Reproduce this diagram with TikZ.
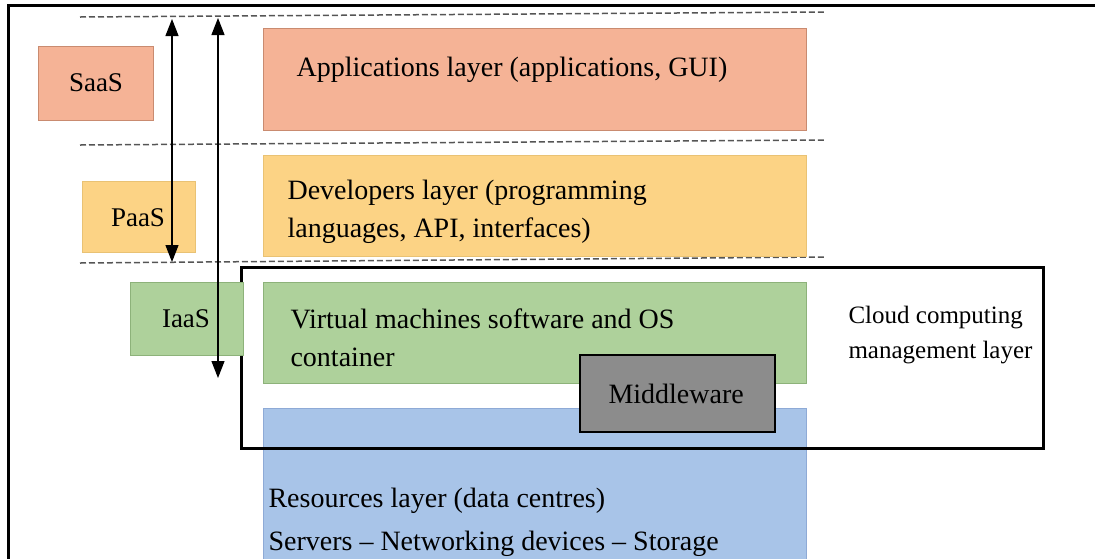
\documentclass[tikz,border=0pt]{standalone}
\usepackage{fontspec}
\newfontfamily\lib{Liberation Serif}[Ligatures=TeX]
\usetikzlibrary{arrows.meta}
\definecolor{saasfillc}{HTML}{F5B396}
\definecolor{saasedge}{HTML}{C98B70}
\definecolor{paasfillc}{HTML}{FCD385}
\definecolor{paasedge}{HTML}{E9C274}
\definecolor{iaasfillc}{HTML}{AED19B}
\definecolor{iaasedge}{HTML}{8DB27A}
\definecolor{resfillc}{HTML}{A8C4E8}
\definecolor{resedge}{HTML}{8EAAD6}
\definecolor{midfillc}{HTML}{8C8C8C}
\definecolor{sepcol}{HTML}{555555}
\begin{document}
\begin{tikzpicture}[x=1pt,y=-1pt,
  layerbox/.style={rectangle, anchor=north west, inner sep=0pt, outer sep=0pt, line width=0.8pt},
  saasfill/.style={draw=saasedge, fill=saasfillc},
  paasfill/.style={draw=paasedge, fill=paasfillc},
  iaasfill/.style={draw=iaasedge, fill=iaasfillc},
  resfill/.style={draw=resedge, fill=resfillc},
  midfill/.style={draw=black, line width=1.5pt, fill=midfillc},
  txt/.style={anchor=base west, font=\lib\fontsize{28}{34}\selectfont},
  lbl/.style={anchor=base, font=\lib\fontsize{27}{32}\selectfont},
  cloudtxt/.style={anchor=base west, font=\lib\fontsize{25}{30}\selectfont},
  sepline/.style={draw=sepcol, line width=1.5pt, dash pattern=on 6pt off 3pt},
  frameline/.style={line width=3pt, draw=black},
  spanarrow/.style={line width=1.2pt, {Triangle[width=13pt,length=17pt]}-{Triangle[width=13pt,length=17pt]}}
]
\useasboundingbox (0,0) rectangle (1095,558);

% outer frame (left and top)
\coordinate (fbl) at (8.5,560);
\coordinate (ftl) at (8.5,5);
\coordinate (ftr) at (1097,5);
\draw[frameline] (fbl) -- (ftl) -- (ftr);

% dashed separators
\coordinate (s1a) at (80,17);  \coordinate (s1b) at (825,12);
\coordinate (s2a) at (80,145); \coordinate (s2b) at (825,140);
\coordinate (s3a) at (80,263); \coordinate (s3b) at (825,257);
\draw[sepline] (s1a) -- (s1b);
\draw[sepline] (s2a) -- (s2b);
\draw[sepline] (s3a) -- (s3b);

% layer boxes
\node[layerbox, saasfill, minimum width=115pt, minimum height=74pt] (saas) at (38,46) {};
\node[layerbox, saasfill, minimum width=543pt, minimum height=102pt] (app) at (263,28) {};
\node[layerbox, paasfill, minimum width=113pt, minimum height=71pt] (paas) at (82,181) {};
\node[layerbox, paasfill, minimum width=543pt, minimum height=101pt] (dev) at (263,155) {};
\node[layerbox, iaasfill, minimum width=543pt, minimum height=101pt] (vm) at (263,282) {};
\node[layerbox, resfill, minimum width=543pt, minimum height=170pt] (res) at (263,408) {};

% cloud computing management layer frame
\node[layerbox, draw=black, line width=3pt, minimum width=802pt, minimum height=181pt] (cloud) at (241,267) {};

\node[layerbox, iaasfill, minimum width=113pt, minimum height=73pt] (iaas) at (130,282) {};
\node[layerbox, midfill, minimum width=195pt, minimum height=77pt] (mid) at (580,355) {};

% texts
\node[lbl] (saast) at (96,91) {SaaS};
\node[lbl] (paast) at (138,226) {PaaS};
\node[lbl] (iaast) at (186,327) {IaaS};
\node[txt] (appt) at (293,76) {Applications layer (applications, GUI)};
\node[txt] (devt1) at (284,199) {Developers layer (programming};
\node[txt] (devt2) at (284,237) {languages, API, interfaces)};
\node[txt] (vmt1) at (287,328) {Virtual machines software and OS};
\node[txt] (vmt2) at (287,366) {container};
\node[txt] (midt) at (605,403) {Middleware};
\node[txt] (rest1) at (265,507) {Resources layer (data centres)};
\node[txt] (rest2) at (265,550) {Servers – Networking devices – Storage};
\node[cloudtxt] (cl1) at (845,323) {Cloud computing};
\node[cloudtxt] (cl2) at (845,358) {management layer};

% span arrows
\coordinate (a1t) at (172,19);
\coordinate (a1b) at (172,262);
\coordinate (a2t) at (218,18);
\coordinate (a2b) at (218,378);
\draw[spanarrow] (a1t) -- (a1b);
\draw[spanarrow] (a2t) -- (a2b);
\end{tikzpicture}
\end{document}
